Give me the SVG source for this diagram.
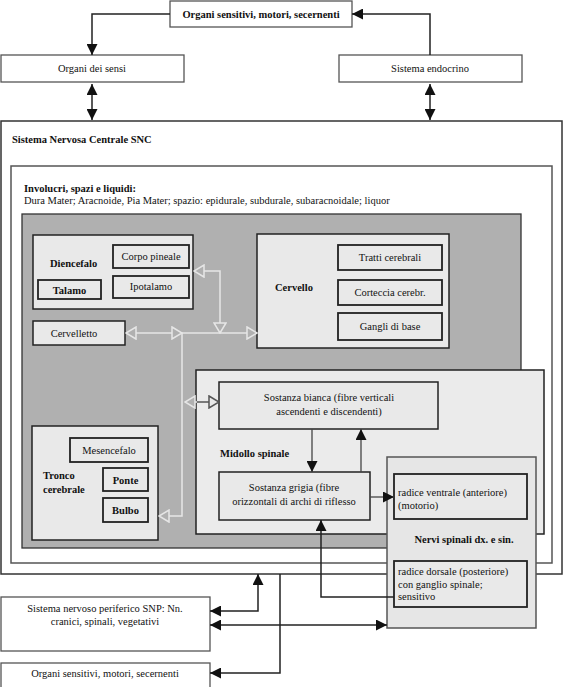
<svg xmlns="http://www.w3.org/2000/svg" width="563" height="687" viewBox="0 0 563 687">
<style>
text{font-family:"Liberation Serif","Times New Roman",serif;font-size:10.5px;fill:#111}
.b{font-weight:bold}
.m{text-anchor:middle}
.plain{fill:#fff;stroke:#555;stroke-width:1.3}
.light{fill:#e9e9e9;stroke:#222;stroke-width:1.5}
.sub{fill:#e9e9e9;stroke:#222;stroke-width:1.8}
.k{fill:none;stroke:#222;stroke-width:1.5}
.g{fill:none;stroke:#444;stroke-width:1.3}
.w{fill:none;stroke:#e6e6e6;stroke-width:1.5}
</style>
<defs>
<marker id="ak" viewBox="0 0 10 10" refX="10" refY="5" markerWidth="11" markerHeight="11" markerUnits="userSpaceOnUse" orient="auto-start-reverse"><path d="M0,0 L10,5 L0,10 z" fill="#111"/></marker>
<marker id="aw" viewBox="0 0 12 14" refX="11" refY="7" markerWidth="12" markerHeight="14" markerUnits="userSpaceOnUse" orient="auto-start-reverse"><path d="M1,1 L11,7 L1,13 z" fill="#b0b0b0" stroke="#e6e6e6" stroke-width="1.5"/></marker>
<marker id="ag" viewBox="0 0 12 14" refX="11" refY="7" markerWidth="12" markerHeight="14" markerUnits="userSpaceOnUse" orient="auto-start-reverse"><path d="M1,1 L11,7 L1,13 z" fill="#e9e9e9" stroke="#555" stroke-width="1.5"/></marker>
</defs>

<g id="top-organi"><rect class="plain" x="170" y="1" width="182" height="26"/><text class="m b" x="261" y="17.5" font-size="9.4">Organi sensitivi, motori, secernenti</text></g>
<g id="organi-sensi"><rect class="plain" x="1" y="55" width="183" height="27"/><text class="m" x="92" y="72">Organi dei sensi</text></g>
<g id="endocrino"><rect class="plain" x="339" y="55" width="183" height="27"/><text class="m" x="430" y="72">Sistema endocrino</text></g>

<g id="snc"><rect x="1" y="121" width="561" height="453" fill="#fff" stroke="#333" stroke-width="1.5"/><text class="b" x="12" y="143">Sistema Nervosa Centrale SNC</text></g>
<g id="involucri"><rect x="11" y="166" width="541" height="397" fill="#fff" stroke="#555" stroke-width="1.5"/><text class="b" x="24" y="192">Involucri, spazi e liquidi:</text><text x="24" y="204">Dura Mater; Aracnoide, Pia Mater; spazio: epidurale, subdurale, subaracnoidale; liquor</text></g>
<g id="encefalo"><rect x="22" y="214" width="499" height="334" fill="#b0b0b0" stroke="#333" stroke-width="1.3"/></g>

<g id="diencefalo"><rect class="light" x="33" y="235" width="160" height="74"/><text class="b" x="50" y="267">Diencefalo</text></g>
<g id="corpo-pineale"><rect class="sub" x="113" y="245" width="76" height="23"/><text class="m" x="151" y="260">Corpo pineale</text></g>
<g id="ipotalamo"><rect class="sub" x="113" y="276" width="76" height="22"/><text class="m" x="151" y="290">Ipotalamo</text></g>
<g id="talamo"><rect class="sub" x="38" y="280" width="63" height="19"/><text class="m b" x="69.5" y="293.5">Talamo</text></g>
<g id="cervelletto"><rect class="light" x="33" y="321" width="92" height="24"/><text class="m" x="74" y="336.5">Cervelletto</text></g>

<g id="cervello"><rect class="light" x="257" y="234" width="192" height="114"/><text class="b" x="275" y="291">Cervello</text></g>
<g id="tratti"><rect class="sub" x="338" y="245" width="104" height="25"/><text class="m" x="390" y="260.5">Tratti cerebrali</text></g>
<g id="corteccia"><rect class="sub" x="338" y="280" width="104" height="25"/><text class="m" x="390" y="296">Corteccia cerebr.</text></g>
<g id="gangli"><rect class="sub" x="338" y="313" width="104" height="27"/><text class="m" x="390" y="329.5">Gangli di base</text></g>

<g id="tronco"><rect class="light" x="32" y="426" width="126" height="114"/><text class="b" x="43" y="479">Tronco</text><text class="b" x="43" y="493">cerebrale</text></g>
<g id="mesencefalo"><rect class="sub" x="70" y="438" width="78" height="24"/><text class="m" x="109" y="453.5">Mesencefalo</text></g>
<g id="ponte"><rect class="sub" x="103" y="468" width="45" height="23"/><text class="m b" x="125.5" y="483.5">Ponte</text></g>
<g id="bulbo"><rect class="sub" x="103" y="498" width="45" height="24"/><text class="m b" x="125.5" y="514">Bulbo</text></g>

<g id="midollo"><rect x="196" y="370" width="348" height="164" fill="#ebebeb" stroke="#222" stroke-width="1.5"/><text class="b" x="220" y="457">Midollo spinale</text></g>
<g id="bianca"><rect class="light" x="219" y="382" width="219" height="47"/><text class="m" x="329" y="401">Sostanza bianca (fibre verticali</text><text class="m" x="329" y="415">ascendenti e discendenti)</text></g>
<g id="grigia"><rect class="light" x="219" y="472" width="151" height="48"/><text class="m" x="294" y="491">Sostanza grigia (fibre</text><text class="m" x="294" y="505">orizzontali di archi di riflesso</text></g>

<g id="nervi-spinali"><rect x="387" y="457" width="149" height="171" fill="#e6e6e6" stroke="#555" stroke-width="1.5"/><text class="m b" x="464" y="543">Nervi spinali dx. e sin.</text></g>
<g id="radice-ventrale"><rect class="sub" x="394" y="474" width="133" height="45"/><text x="398" y="496">radice ventrale (anteriore)</text><text x="398" y="508.5">(motorio)</text></g>
<g id="radice-dorsale"><rect class="sub" x="394" y="561" width="133" height="46"/><text x="398" y="575">radice dorsale (posteriore)</text><text x="398" y="587.5">con ganglio spinale;</text><text x="398" y="600">sensitivo</text></g>

<g id="snp"><rect class="plain" x="1" y="597" width="209" height="54"/><text class="m" x="105" y="612">Sistema nervoso periferico SNP: Nn.</text><text class="m" x="105" y="625">cranici, spinali, vegetativi</text></g>
<g id="bottom-organi"><rect class="plain" x="1" y="663" width="209" height="30"/><text class="m" x="105" y="677">Organi sensitivi, motori, secernenti</text></g>

<g id="connectors">
<path class="k" d="M170,14 H92 V55" marker-end="url(#ak)"/>
<path class="k" d="M430,55 V14 H352" marker-end="url(#ak)"/>
<path class="k" d="M92,84 V120" marker-start="url(#ak)" marker-end="url(#ak)"/>
<path class="k" d="M430,84 V120" marker-start="url(#ak)" marker-end="url(#ak)"/>

<path class="w" d="M194,271 H220 V333" marker-start="url(#aw)" marker-end="url(#aw)"/>
<path class="w" d="M182,333 H257" marker-end="url(#aw)"/>
<path class="w" d="M126,333 H182" marker-start="url(#aw)" marker-end="url(#aw)"/>
<path class="w" d="M182,333 V516 H159" marker-end="url(#aw)"/>
<path class="w" d="M185,402 H198" marker-start="url(#aw)"/>
<path d="M197,402 H219" fill="none" stroke="#555" stroke-width="1.5" marker-end="url(#ag)"/>

<path class="g" d="M312,429 V472" marker-end="url(#ak)"/>
<path class="g" d="M361,472 V429" marker-end="url(#ak)"/>
<path class="g" d="M370,497 H394" marker-end="url(#ak)"/>
<path class="k" d="M394,597 H321 V520" marker-end="url(#ak)"/>

<path class="k" d="M210,611 H258 V574" marker-start="url(#ak)" marker-end="url(#ak)"/>
<path class="k" d="M210,625 H387" marker-start="url(#ak)" marker-end="url(#ak)"/>
<path class="k" d="M280,574 V673 H210" marker-end="url(#ak)"/>
</g>
</svg>
